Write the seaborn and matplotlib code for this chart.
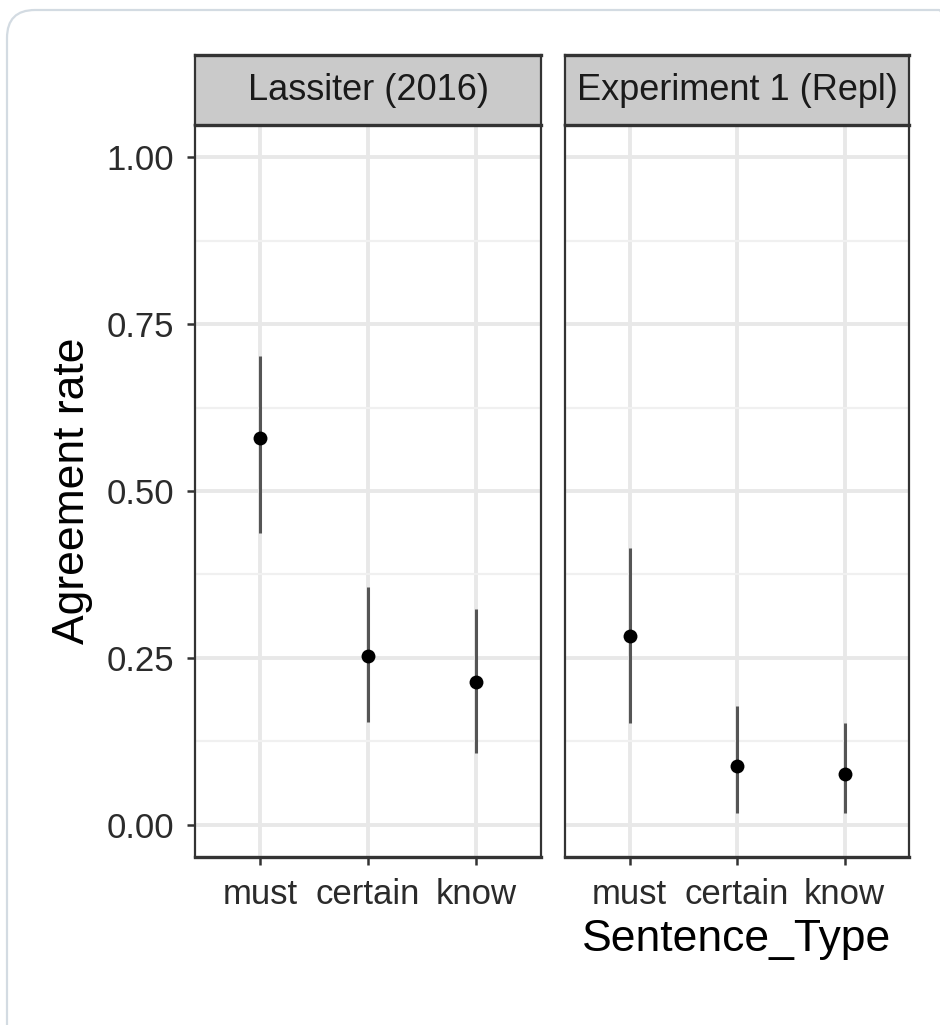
import numpy as np
import pandas as pd
import matplotlib
matplotlib.use("Agg")
import matplotlib.pyplot as plt
from matplotlib.patches import FancyBboxPatch
from matplotlib.transforms import IdentityTransform
from matplotlib.ticker import MultipleLocator
import seaborn as sns

# ---- data ----
categories = ["must", "certain", "know"]
panels = ["Lassiter (2016)", "Experiment 1 (Repl)"]
lassiter_rate = [0.580, 0.253, 0.214]
lassiter_lo = [0.437, 0.154, 0.108]
lassiter_hi = [0.702, 0.356, 0.323]
exp1_rate = [0.283, 0.088, 0.076]
exp1_lo = [0.153, 0.018, 0.018]
exp1_hi = [0.415, 0.178, 0.153]
y_ticks = [0.00, 0.25, 0.50, 0.75, 1.00]
y_ticklabels = ["0.00", "0.25", "0.50", "0.75", "1.00"]

df = pd.DataFrame({
    "panel": [panels[0]] * 3 + [panels[1]] * 3,
    "Sentence_Type": categories * 2,
    "rate": lassiter_rate + exp1_rate,
    "lo": lassiter_lo + exp1_lo,
    "hi": lassiter_hi + exp1_hi,
})

sns.set_theme(style="white")
plt.rcParams["font.family"] = ["Liberation Sans", "DejaVu Sans"]

W, H = 940, 1025
DPI = 100
fig = plt.figure(figsize=(W / DPI, H / DPI), dpi=DPI)
fig.patch.set_facecolor("white")

# outer rounded card border
card = FancyBboxPatch((7, -40), 960, 1055, boxstyle="round,pad=0,rounding_size=28",
                      transform=IdentityTransform(), facecolor="none",
                      edgecolor="#d3dbe2", linewidth=1.6)
fig.patches.append(card)

def px_axes(x0, y0, x1, y1):
    return fig.add_axes([x0 / W, 1 - y1 / H, (x1 - x0) / W, (y1 - y0) / H])

border_col = "#333333"
panel_boxes = [(195, 541), (565, 909)]
top_strip, top_panel, bottom_panel = 55, 125, 857

for i, (pname, (x0, x1)) in enumerate(zip(panels, panel_boxes)):
    ax = px_axes(x0, top_panel, x1, bottom_panel)
    sub = df[df["panel"] == pname]
    ax.set_xlim(-0.6, 2.6)
    ax.set_ylim(-0.048, 1.048)
    # grid
    ax.yaxis.set_minor_locator(MultipleLocator(0.125))
    ax.set_axisbelow(True)
    ax.grid(True, which="major", axis="both", color="#e8e8e8", linewidth=2.8)
    ax.grid(True, which="minor", axis="y", color="#f0f0f0", linewidth=1.6)
    # error bars and points
    ax.vlines(sub["Sentence_Type"], sub["lo"], sub["hi"], color="#555555", linewidth=2.2, zorder=2)
    sns.scatterplot(data=sub, x="Sentence_Type", y="rate", ax=ax, color="black",
                    s=100, edgecolor="black", linewidth=0, zorder=3, legend=False)
    ax.set_xlim(-0.6, 2.6)
    ax.set_ylim(-0.048, 1.048)
    ax.set_xlabel("")
    ax.set_ylabel("")
    ax.set_yticks(y_ticks)
    ax.tick_params(axis="y", which="minor", length=0)
    for s in ax.spines.values():
        s.set_color(border_col)
        s.set_linewidth(1.6)
    ax.spines["bottom"].set_linewidth(2.4)
    ax.tick_params(axis="x", length=6, width=1.8, color=border_col, pad=9,
                   labelsize=25, labelcolor="#2b2b2b", bottom=True)
    if i == 0:
        ax.set_yticklabels(y_ticklabels)
        ax.tick_params(axis="y", which="major", length=6, width=1.8, color=border_col,
                       pad=9, labelsize=25, labelcolor="#2b2b2b", left=True)
    else:
        ax.tick_params(axis="y", which="major", left=False, labelleft=False)
    # strip
    sax = px_axes(x0, top_strip, x1, top_panel)
    sax.set_facecolor("#cacaca")
    sax.set_xticks([])
    sax.set_yticks([])
    for s in sax.spines.values():
        s.set_color(border_col)
        s.set_linewidth(1.6)
    sax.spines["top"].set_linewidth(2.4)
    sax.spines["bottom"].set_linewidth(2.4)
    sax.text(0.5, 0.5, pname, ha="center", va="center", fontsize=26,
             color="#1a1a1a", transform=sax.transAxes)

fig.text(737 / W, 1 - 940 / H, "Sentence_Type", ha="center", va="center",
         fontsize=32, color="black")
fig.text(73 / W, 1 - 491 / H, "Agreement rate", ha="center", va="center",
         rotation=90, fontsize=32, color="black")

fig.savefig("out.png", dpi=DPI, facecolor="white")
